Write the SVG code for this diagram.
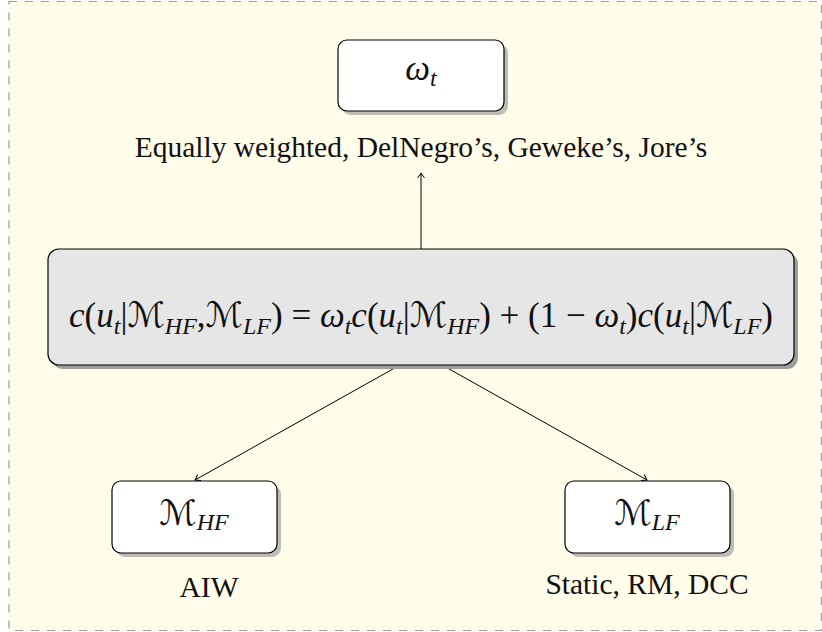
<svg xmlns="http://www.w3.org/2000/svg" width="822" height="632" viewBox="0 0 822 632">
<style>
.bg{fill:#fffce9;stroke:#9a9a9a;stroke-width:1.2;stroke-dasharray:8 8}
.box{fill:#ffffff;stroke:#000;stroke-width:1.2}
.big{fill:#e6e6e6;stroke:#000;stroke-width:1.2}
.sh{fill:#bdbdb5}
.shb{fill:#9e9e9a}
.lbl{font-family:"Liberation Serif","Times New Roman",serif;font-size:29.5px;fill:#111}
.math{font-family:"Liberation Serif","Times New Roman",serif;font-size:35px;fill:#111}
.i{font-style:italic}
.sub{font-style:italic;font-size:24px}
.cal{font-family:"DejaVu Serif","DejaVu Sans",serif;font-style:normal}
.edge{stroke:#000;stroke-width:1;fill:none}
</style>
<defs>
<marker id="arr" markerUnits="userSpaceOnUse" markerWidth="12" markerHeight="12" viewBox="-8 -6 10 12" refX="0" refY="0" orient="auto">
<path d="M -5 -3.5 Q -1.5 -0.8 0 0 Q -1.5 0.8 -5 3.5" stroke="#000" stroke-width="1" fill="none"/>
</marker>
</defs>
<rect class="bg" x="9" y="1.5" width="812.5" height="629"/>
<g id="edges">
<line class="edge" x1="421" y1="249" x2="421" y2="173" marker-end="url(#arr)"/>
<line class="edge" x1="400" y1="365" x2="195" y2="480" marker-end="url(#arr)"/>
<line class="edge" x1="442" y1="365" x2="647" y2="480" marker-end="url(#arr)"/>
</g>
<g id="omega">
<rect class="sh" x="342" y="44" width="166" height="71" rx="9"/>
<rect class="box" x="338" y="40" width="166" height="71" rx="9"/>
<text class="math" x="421" y="80" text-anchor="middle"><tspan class="i">ω</tspan><tspan class="sub" dy="6">t</tspan></text>
<text class="lbl" x="421" y="157" text-anchor="middle">Equally weighted, DelNegro’s, Geweke’s, Jore’s</text>
</g>
<g id="combo">
<rect class="shb" x="52" y="253" width="746" height="116" rx="11"/>
<rect class="big" x="48" y="249" width="746" height="116" rx="11"/>
<text class="math" x="421" y="327" text-anchor="middle"><tspan class="i">c</tspan>(<tspan class="i">u</tspan><tspan class="sub" dy="7">t</tspan><tspan dy="-7">|</tspan><tspan class="cal">ℳ</tspan><tspan class="sub" dy="7">HF</tspan><tspan dy="-7">,</tspan><tspan class="cal">ℳ</tspan><tspan class="sub" dy="7">LF</tspan><tspan dy="-7">) = </tspan><tspan class="i">ω</tspan><tspan class="sub" dy="7">t</tspan><tspan class="i" dy="-7">c</tspan>(<tspan class="i">u</tspan><tspan class="sub" dy="7">t</tspan><tspan dy="-7">|</tspan><tspan class="cal">ℳ</tspan><tspan class="sub" dy="7">HF</tspan><tspan dy="-7">) + (1 − </tspan><tspan class="i">ω</tspan><tspan class="sub" dy="7">t</tspan><tspan dy="-7">)</tspan><tspan class="i">c</tspan>(<tspan class="i">u</tspan><tspan class="sub" dy="7">t</tspan><tspan dy="-7">|</tspan><tspan class="cal">ℳ</tspan><tspan class="sub" dy="7">LF</tspan><tspan dy="-7">)</tspan></text>
</g>
<g id="mhf">
<rect class="sh" x="116" y="485" width="165" height="72" rx="9"/>
<rect class="box" x="112" y="481" width="165" height="72" rx="9"/>
<text class="math" x="194" y="525" text-anchor="middle"><tspan class="cal">ℳ</tspan><tspan class="sub" dy="5">HF</tspan></text>
<text class="lbl" x="209" y="597" text-anchor="middle">AIW</text>
</g>
<g id="mlf">
<rect class="sh" x="569" y="485" width="165" height="72" rx="9"/>
<rect class="box" x="565" y="481" width="165" height="72" rx="9"/>
<text class="math" x="647" y="525" text-anchor="middle"><tspan class="cal">ℳ</tspan><tspan class="sub" dy="5">LF</tspan></text>
<text class="lbl" x="647" y="594" text-anchor="middle">Static, RM, DCC</text>
</g>
</svg>
